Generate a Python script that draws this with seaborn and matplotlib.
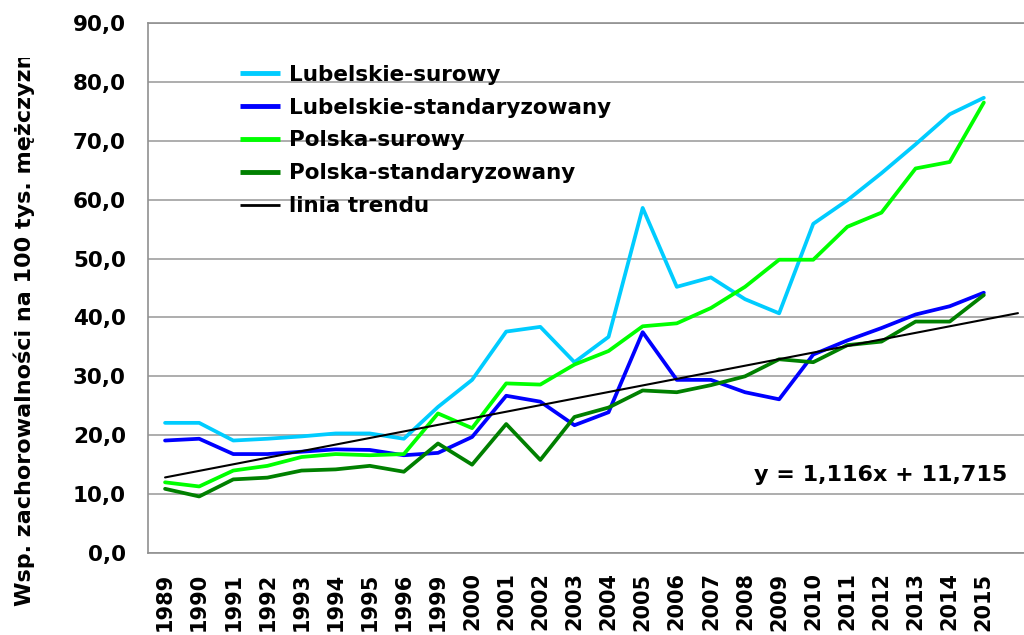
import matplotlib
matplotlib.use("Agg")
import matplotlib.pyplot as plt
import seaborn as sns
import pandas as pd
import numpy as np
from matplotlib.transforms import Bbox, TransformedBbox

# DANE
years = ["1989", "1990", "1991", "1992", "1993", "1994", "1995", "1996", "1999",
         "2000", "2001", "2002", "2003", "2004", "2005", "2006", "2007", "2008",
         "2009", "2010", "2011", "2012", "2013", "2014", "2015"]
lub_surowy = [22.1, 22.1, 19.1, 19.4, 19.8, 20.3, 20.3, 19.4, 24.8, 29.4, 37.6, 38.4,
              32.4, 36.7, 58.6, 45.2, 46.8, 43.1, 40.7, 55.9, 59.9, 64.5, 69.4, 74.5, 77.3]
lub_stand = [19.1, 19.4, 16.8, 16.8, 17.2, 17.6, 17.5, 16.6, 17.0, 19.7, 26.7, 25.7,
             21.7, 23.9, 37.5, 29.4, 29.4, 27.3, 26.1, 33.7, 36.1, 38.2, 40.5, 41.9, 44.2]
pl_surowy = [12.0, 11.3, 14.0, 14.8, 16.3, 16.8, 16.6, 16.8, 23.7, 21.2, 28.8, 28.6,
             32.0, 34.3, 38.5, 39.0, 41.6, 45.2, 49.8, 49.8, 55.4, 57.8, 65.3, 66.4, 76.5]
pl_stand = [10.9, 9.6, 12.5, 12.8, 14.0, 14.2, 14.8, 13.8, 18.6, 15.0, 21.9, 15.8,
            23.1, 24.7, 27.6, 27.3, 28.5, 30.0, 32.9, 32.4, 35.3, 35.9, 39.3, 39.3, 43.8]
series_names = ["Lubelskie-surowy", "Lubelskie-standaryzowany",
                "Polska-surowy", "Polska-standaryzowany"]
colors = ["#00CCFF", "#0000FF", "#00FF00", "#008000"]
trend_a, trend_b = 1.116, 11.715

x = np.arange(1, len(years) + 1)
df = pd.DataFrame({
    "x": np.tile(x, 4),
    "val": lub_surowy + lub_stand + pl_surowy + pl_stand,
    "seria": np.repeat(series_names, len(years)),
})

sns.set_style("white")
plt.rcParams["font.family"] = ["DejaVu Sans"]
plt.rcParams["font.weight"] = "bold"
plt.rcParams["text.color"] = "black"
plt.rcParams["xtick.color"] = "black"
plt.rcParams["ytick.color"] = "black"

fig = plt.figure(figsize=(10.24, 6.35), dpi=100)
ax = fig.add_axes([148 / 1024, 1 - 553 / 635, (1035 - 148) / 1024, 530 / 635])

sns.lineplot(data=df, x="x", y="val", hue="seria", hue_order=series_names,
             palette=colors, linewidth=2.7, ax=ax, legend=True)
xt = np.arange(1, len(years) + 2)
ax.plot(xt, trend_a * xt + trend_b, color="black", linewidth=1.5, label="linia trendu")

ax.set_xlim(0.5, 26.5)
ax.set_ylim(0, 90)
ax.set_yticks(np.arange(0, 91, 10))
ax.set_yticklabels([f"{v:.1f}".replace(".", ",") for v in np.arange(0, 91, 10)],
                   fontsize=15.5, fontweight="bold")
ax.set_xticks(x)
ax.set_xticklabels(years, rotation=90, fontsize=15, fontweight="bold")
ax.tick_params(axis="both", length=0)
ax.tick_params(axis="y", pad=16)
ax.tick_params(axis="x", pad=14)
ax.set_xlabel("")
ax.set_ylabel("")
ax.grid(axis="y", color="#A0A0A0", linewidth=1.2)
for s in ax.spines.values():
    s.set_color("#909090")
    s.set_linewidth(1.2)

handles, labels = ax.get_legend_handles_labels()
leg = ax.legend(handles, labels, loc="upper left", bbox_to_anchor=(0.082, 0.958),
                frameon=False, fontsize=15.5, handlelength=1.85, labelspacing=0.6,
                handletextpad=0.4)
for t in leg.get_texts():
    t.set_fontweight("bold")
    t.set_color("black")
for h in leg.get_lines():
    h.set_solid_capstyle("butt")
    if h.get_color() != "black":
        h.set_linewidth(3.5)
    else:
        h.set_linewidth(2)

ax.text(25.7, 13.2, "y = 1,116x + 11,715", ha="right", va="center",
        fontsize=16, fontweight="bold")

yl = fig.text(24 / 1024, 1 - 606 / 635, "Wsp. zachorowalności na 100 tys. mężczyzn",
              rotation=90, ha="center", va="bottom", fontsize=16, fontweight="bold")
yl.set_clip_on(True)
yl.set_clip_box(TransformedBbox(Bbox([[0, 0], [0.1, 1 - 58 / 635]]), fig.transFigure))

fig.savefig("out.png", dpi=100)
